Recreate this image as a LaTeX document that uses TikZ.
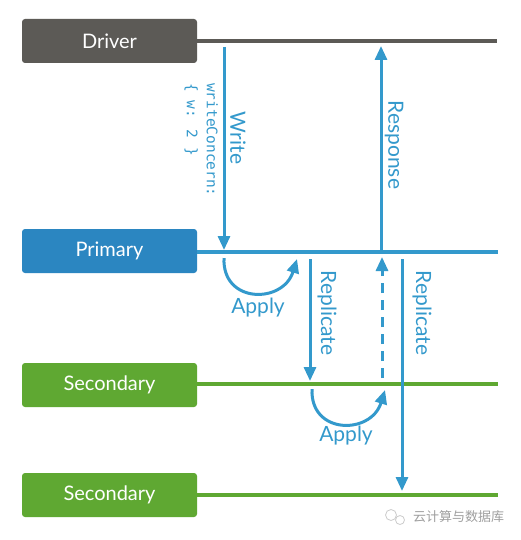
\documentclass[tikz,border=0pt]{standalone}
\usepackage{fontspec}
\setmainfont{Lato}
\newfontfamily\monofont{DejaVu Sans Mono}
\newfontfamily\cjk{Noto Sans CJK SC}
\usetikzlibrary{arrows.meta}
\definecolor{drvgray}{HTML}{5C5A56}
\definecolor{primblue}{HTML}{2B86C1}
\definecolor{arrblue}{HTML}{3399CC}
\definecolor{secgreen}{HTML}{5FA832}
\tikzset{
  rolebox/.style={rounded corners=3pt, minimum width=175pt, minimum height=44pt, inner sep=0pt, text=white, font=\fontsize{20}{24}\selectfont},
  lifeline/.style={line width=4pt},
  msg/.style={arrblue, line width=3pt, -{Triangle[length=14pt,width=12pt]}},
  lbl/.style={arrblue, font=\fontsize{21}{25}\selectfont, inner sep=0pt},
  vlbl/.style={lbl, rotate=-90}
}
\begin{document}
\begin{tikzpicture}[x=1pt,y=-1pt]
\useasboundingbox[fill=white] (0,0) rectangle (520,540);
% boxes
\node[rolebox, fill=drvgray] (drv) at (109.5,41) {Driver};
\node[rolebox, fill=primblue] (prim) at (109.5,251) {Primary};
\node[rolebox, fill=secgreen] (sec1) at (109.5,385) {Secondary};
\node[rolebox, fill=secgreen] (sec2) at (109.5,495) {Secondary};
% lifeline ends
\coordinate (drvE) at (497,41);
\coordinate (primE) at (498,252);
\coordinate (sec1E) at (498,384);
\coordinate (sec2E) at (498,495);
\draw[lifeline, drvgray] (drv.east |- drvE) -- (drvE);
\draw[lifeline, arrblue] (prim.east |- primE) -- (primE);
\draw[lifeline, secgreen] (sec1.east |- sec1E) -- (sec1E);
\draw[lifeline, secgreen] (sec2.east |- sec2E) -- (sec2E);
% write
\coordinate (w0) at (224,47);
\coordinate (w1) at (224,250);
\draw[msg] (w0) -- (w1);
\node[vlbl] (wl) at (238,138) {Write};
\node[rotate=-90, arrblue, anchor=north west, align=left, inner sep=0pt, font=\monofont\fontsize{14.5}{20}\selectfont] (wc) at (218,83) {writeConcern:\\\{ w: 2 \}};
% response
\coordinate (r0) at (381,250);
\coordinate (r1) at (381,46);
\draw[msg] (r0) -- (r1);
\node[vlbl] (rl) at (394,145) {Response};
% apply 1
\coordinate (a0) at (224,258);
\coordinate (a1) at (297,259);
\draw[msg] (a0) .. controls (222,304) and (283,304) .. (a1);
\node[lbl] (al1) at (258,308) {Apply};
% replicate 1
\coordinate (p0) at (310,259);
\coordinate (p1) at (310,381);
\draw[msg] (p0) -- (p1);
\node[vlbl] (pl1) at (327,313) {Replicate};
% dashed ack
\coordinate (d0) at (382,378);
\coordinate (d1) at (382,257);
\draw[msg, dash pattern=on 10pt off 7pt] (d0) -- (d1);
% replicate 2
\coordinate (q0) at (402,259);
\coordinate (q1) at (402,491);
\draw[msg] (q0) -- (q1);
\node[vlbl] (pl2) at (422,313) {Replicate};
% apply 2
\coordinate (b0) at (312,389);
\coordinate (b1) at (385,390);
\draw[msg] (b0) .. controls (310,435) and (371,435) .. (b1);
\node[lbl] (al2) at (346,436) {Apply};
% watermark
\node[draw=gray!40, line width=0.8pt, circle, minimum size=11pt, inner sep=0pt] (ic1) at (391,515) {};
\node[draw=gray!40, line width=0.8pt, circle, minimum size=9pt, inner sep=0pt, fill=white] (ic2) at (400,520) {};
\node[text=gray!75, font=\cjk\fontsize{13}{15}\selectfont, inner sep=0pt, anchor=west] (wm) at (413,517) {云计算与数据库};
\end{tikzpicture}
\end{document}
